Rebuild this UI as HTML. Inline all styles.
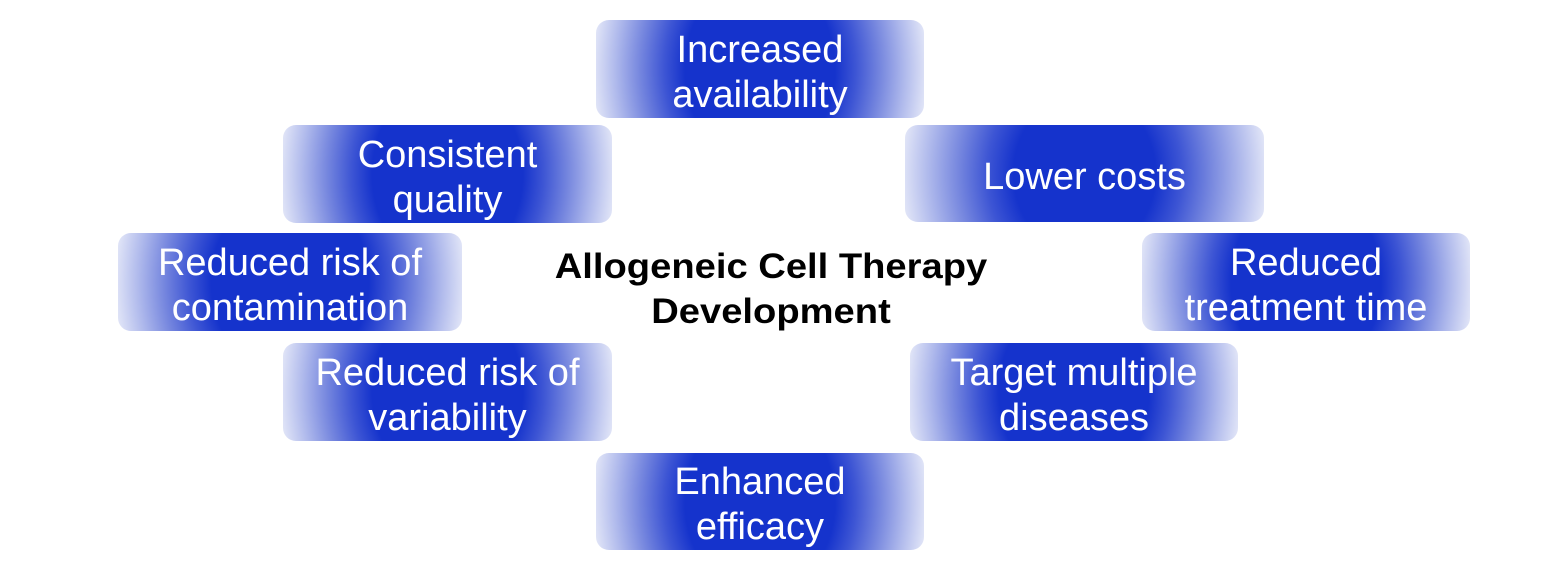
<!DOCTYPE html>
<html>
<head>
<meta charset="utf-8">
<style>
  html, body { margin:0; padding:0; }
  body { width:1562px; height:580px; background:#ffffff; position:relative; overflow:hidden; }
  .box {
    position:absolute;
    border-radius:13px;
    background: radial-gradient(ellipse 52% 220% at 50% 50%, #1533cc 0%, #1533cc 44%, #3d55d4 56%, #7485de 70%, #b0baec 85%, #e9ecf9 100%);
    display:flex; align-items:center; justify-content:center;
    text-align:center;
    color:#ffffff;
    font-family:"Liberation Sans", Arial, sans-serif;
    font-size:38px;
    line-height:45px;
    padding-top:7px;
    box-sizing:border-box;
  }
  .box.wide { background: radial-gradient(ellipse 52% 220% at 50% 50%, #1533cc 0%, #1533cc 38%, #3d55d4 52%, #7485de 67%, #b0baec 84%, #e9ecf9 100%); }
  .title {
    position:absolute;
    left:521px; top:244px; width:500px;
    text-align:center;
    font-family:"Liberation Sans", Arial, sans-serif;
    font-weight:bold;
    font-size:35px;
    line-height:45px;
    color:#000;
    transform:scaleX(1.09);
    transform-origin:250px 0;
  }
</style>
</head>
<body>
  <div class="box" style="left:596px;top:20px;width:328px;height:98px;">Increased<br>availability</div>
  <div class="box" style="left:283px;top:125px;width:329px;height:98px;">Consistent<br>quality</div>
  <div class="box wide" style="left:905px;top:125px;width:359px;height:97px;">Lower costs</div>
  <div class="box" style="left:118px;top:233px;width:344px;height:98px;">Reduced risk of<br>contamination</div>
  <div class="box" style="left:1142px;top:233px;width:328px;height:98px;">Reduced<br>treatment time</div>
  <div class="box" style="left:283px;top:343px;width:329px;height:98px;">Reduced risk of<br>variability</div>
  <div class="box" style="left:910px;top:343px;width:328px;height:98px;">Target multiple<br>diseases</div>
  <div class="box" style="left:596px;top:453px;width:328px;height:97px;">Enhanced<br>efficacy</div>
  <div class="title">Allogeneic Cell Therapy<br>Development</div>
</body>
</html>
